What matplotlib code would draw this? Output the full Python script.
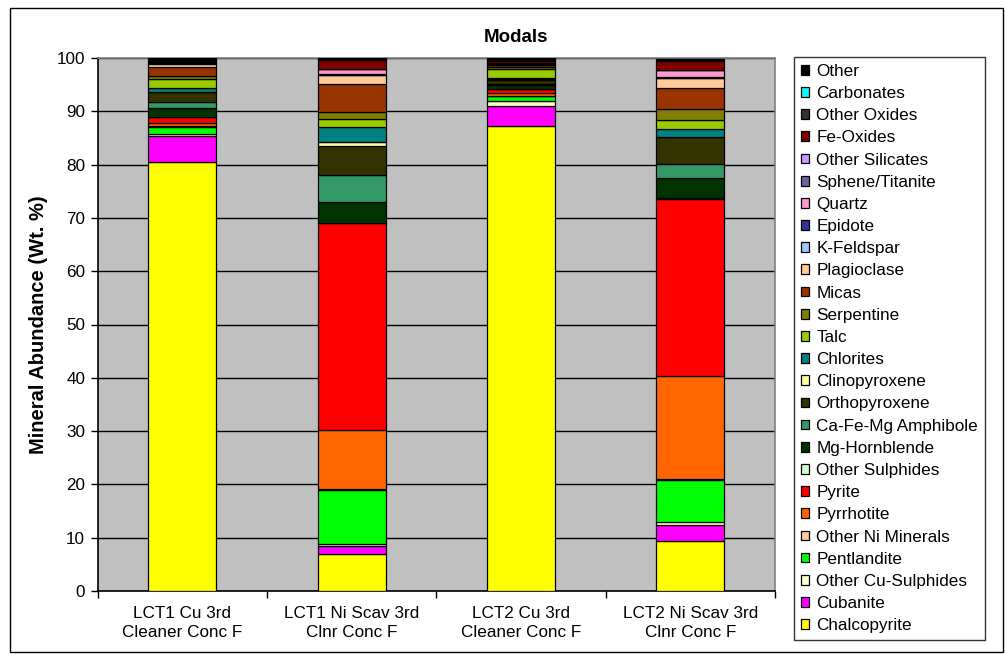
import matplotlib
matplotlib.use("Agg")
import matplotlib.pyplot as plt
from matplotlib.patches import Patch, Rectangle
import numpy as np

plt.rcParams['font.family'] = ['Liberation Sans', 'DejaVu Sans']

samples = ["LCT1 Cu 3rd\nCleaner Conc F", "LCT1 Ni Scav 3rd\nClnr Conc F",
           "LCT2 Cu 3rd\nCleaner Conc F", "LCT2 Ni Scav 3rd\nClnr Conc F"]

# minerals stacked from the bottom up
minerals = ["Chalcopyrite", "Cubanite", "Other Cu-Sulphides", "Pentlandite",
            "Other Ni Minerals", "Pyrrhotite", "Pyrite", "Other Sulphides",
            "Mg-Hornblende", "Ca-Fe-Mg Amphibole", "Orthopyroxene", "Clinopyroxene",
            "Chlorites", "Talc", "Serpentine", "Micas", "Plagioclase", "K-Feldspar",
            "Epidote", "Quartz", "Sphene/Titanite", "Other Silicates", "Fe-Oxides",
            "Other Oxides", "Carbonates", "Other"]

colors = ["#FFFF00", "#FF00FF", "#FFFFCC", "#00FF00",
          "#FFCC99", "#FF6600", "#FF0000", "#CCFFCC",
          "#003300", "#339966", "#333300", "#FFFF99",
          "#008080", "#99CC00", "#808000", "#993300", "#FFCC99", "#99CCFF",
          "#333399", "#FF99CC", "#666699", "#CC99FF", "#800000",
          "#333333", "#00FFFF", "#000000"]

# Wt. % per mineral for each sample (same order as minerals)
lct1_cu = [80.5, 4.8, 0.5, 1.3, 0.1, 0.6, 1.1, 0.05, 1.65, 1.15, 1.8, 0.1,
           0.8, 1.7, 0.5, 1.7, 0.6, 0.05, 0.05, 0.05, 0.05, 0.05, 0.2, 0.3, 0.05, 0.25]
lct1_ni = [6.9, 1.6, 0.3, 10.2, 0.1, 11.2, 38.7, 0.1, 3.8, 5.1, 5.4, 0.9,
           2.7, 1.5, 1.3, 5.3, 1.7, 0.1, 0.1, 0.9, 0.05, 0.05, 1.7, 0.2, 0.05, 0.15]
lct2_cu = [87.2, 3.8, 0.9, 0.9, 0.05, 0.55, 0.8, 0.05, 0.6, 0.3, 0.8, 0.05,
           0.2, 1.7, 0.4, 0.4, 0.2, 0.05, 0.05, 0.05, 0.05, 0.05, 0.2, 0.3, 0.05, 0.3]
lct2_ni = [9.3, 3.0, 0.7, 7.9, 0.1, 19.3, 33.3, 0.1, 3.8, 2.6, 5.0, 0.1,
           1.5, 1.6, 2.2, 3.9, 1.8, 0.1, 0.1, 1.3, 0.05, 0.05, 1.6, 0.2, 0.05, 0.25]

data = np.array([lct1_cu, lct1_ni, lct2_cu, lct2_ni]).T

W, H = 1005, 654
FS = 12.3
fig = plt.figure(figsize=(W / 100, H / 100), dpi=100)

# chart frame
fig.patches.append(Rectangle((10 / W, 2 / H), 993 / W, 644 / H, transform=fig.transFigure,
                             fill=False, edgecolor="black", linewidth=1.0))

ax = fig.add_axes([97.7 / W, 1 - 591 / H, (775 - 97.7) / W, (591 - 58) / H])
ax.set_facecolor("#C0C0C0")

x = np.arange(len(samples))
bottom = np.zeros(len(samples))
handles = []
for name, col, vals in zip(minerals, colors, data):
    ax.bar(x, vals, width=0.4, bottom=bottom, color=col, edgecolor="black",
           linewidth=0.9, zorder=3)
    bottom += vals
    handles.append(Patch(facecolor=col, edgecolor="black", linewidth=0.9, label=name))

ax.set_xlim(-0.5, 3.5)
ax.set_ylim(0, 100)
ax.set_yticks(np.arange(0, 101, 10))
ax.yaxis.grid(True, color="black", linewidth=1.0, zorder=1)
ax.set_axisbelow(True)
ax.tick_params(axis="y", direction="out", length=5, width=1, labelsize=FS, pad=4)

ax.set_xticks(x)
ax.set_xticklabels(samples, fontsize=FS, linespacing=1.3)
ax.set_xticks(np.arange(-0.5, 3.6, 1.0), minor=True)
ax.tick_params(axis="x", which="major", length=0, pad=11)
ax.tick_params(axis="x", which="minor", direction="out", length=5, width=1)

for side in ("top", "right"):
    ax.spines[side].set_color("#808080")
    ax.spines[side].set_linewidth(1.2)
for side in ("left", "bottom"):
    ax.spines[side].set_color("black")
    ax.spines[side].set_linewidth(1.2)

ax.set_ylabel("Mineral Abundance (Wt. %)", fontsize=14.5, fontweight="bold", labelpad=6)
fig.text(516 / W, 1 - 37 / H, "Modals", ha="center", va="center",
         fontsize=13.5, fontweight="bold")

leg = fig.legend(handles=handles[::-1], loc="upper left",
                 bbox_to_anchor=(794 / W, 1 - 57 / H), borderaxespad=0,
                 fontsize=FS, frameon=True, fancybox=False, edgecolor="black",
                 handlelength=0.5, handleheight=0.5, handletextpad=0.4,
                 labelspacing=0.42, borderpad=0.4)
leg.get_frame().set_linewidth(1.0)

fig.savefig("out.png", dpi=100)
